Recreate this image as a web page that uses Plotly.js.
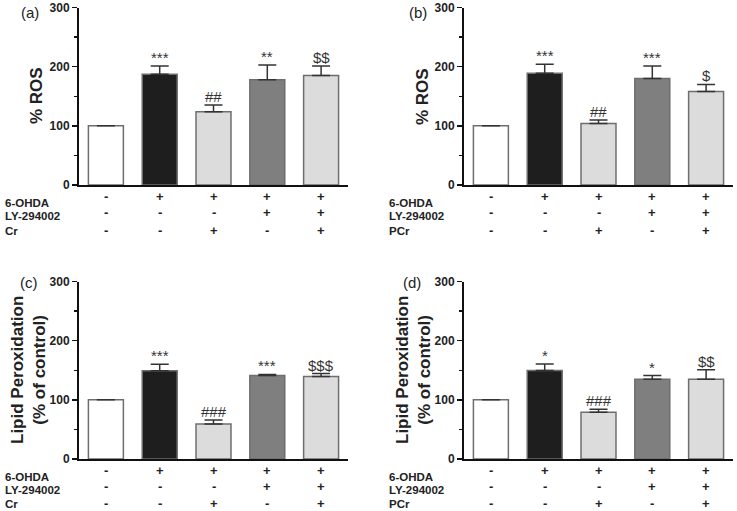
<!DOCTYPE html>
<html>
<head>
<meta charset="utf-8">
<script src="https://cdn.plot.ly/plotly-3.0.1.min.js"></script>
<style>html,body{margin:0;padding:0;background:#fff;}#chart{width:737px;height:511px;}</style>
</head>
<body>
<div id="chart"></div>
<script>
// ---- data ----
const groups = ['Control', '6-OHDA', '6-OHDA+X', '6-OHDA+LY', '6-OHDA+LY+X'];
const barColors = ['#ffffff', '#1e1e1e', '#dcdcdc', '#7f7f7f', '#dcdcdc'];

const rosCr      = [100, 187, 124, 178, 185];
const rosCrErr   = [0, 14, 11, 25, 16];
const rosPCr     = [100, 189, 104, 180, 158];
const rosPCrErr  = [0, 15, 6, 21, 12];
const lpoCr      = [100, 149, 59, 141, 139.5];
const lpoCrErr   = [0, 11, 7, 2, 5];
const lpoPCr     = [100, 149.5, 79, 135, 135];
const lpoPCrErr  = [0, 11, 5, 6, 16];

const marksA = ['', '***', '##', '**', '$$'];
const marksB = ['', '***', '##', '***', '$'];
const marksC = ['', '***', '###', '***', '$$$'];
const marksD = ['', '*', '###', '*', '$$'];

const rowOHDA = ['-', '+', '+', '+', '+'];
const rowLY   = ['-', '-', '-', '+', '+'];
const rowCr   = ['-', '-', '+', '-', '+'];
const rowLabelsCr  = ['6-OHDA', 'LY-294002', 'Cr'];
const rowLabelsPCr = ['6-OHDA', 'LY-294002', 'PCr'];

const yTicks = [0, 100, 200, 300];
const yTickText = ['0', '100', '200', '300'];

// ---- layout helpers ----
const W = 737, H = 511;
const px = v => v / W;
const py = v => 1 - v / H;

const panels = [
  {vals: rosCr, err: rosCrErr, marks: marksA, label: '(a)', ytitle: '% ROS', rows: rowLabelsCr,
   x0: 79, x1: 348, yTop: 7.5, yBot: 185, lab: [30, 12], title: [36, 96], tableY: [197, 213, 230.5], rowY: [202.5, 216.5, 230.5], rowX: 3},
  {vals: rosPCr, err: rosPCrErr, marks: marksB, label: '(b)', ytitle: '% ROS', rows: rowLabelsPCr,
   x0: 464, x1: 733, yTop: 7.5, yBot: 185, lab: [418, 12], title: [422, 96], tableY: [197, 213, 230.5], rowY: [202.5, 216.5, 230.5], rowX: 387},
  {vals: lpoCr, err: lpoCrErr, marks: marksC, label: '(c)', ytitle: 'Lipid Peroxidation<br>(% of control)', rows: rowLabelsCr,
   x0: 79, x1: 348, yTop: 281.5, yBot: 459, lab: [29, 282], title: [28, 370], tableY: [470, 486.5, 503], rowY: [476.5, 490, 504], rowX: 3},
  {vals: lpoPCr, err: lpoPCrErr, marks: marksD, label: '(d)', ytitle: 'Lipid Peroxidation<br>(% of control)', rows: rowLabelsPCr,
   x0: 464, x1: 733, yTop: 281.5, yBot: 459, lab: [412, 282], title: [413, 370], tableY: [470, 486.5, 503], rowY: [476.5, 490, 504], rowX: 387}
];

const data = [];
const layout = {
  width: W, height: H,
  margin: {l: 0, r: 0, t: 0, b: 0},
  paper_bgcolor: '#fff', plot_bgcolor: '#fff',
  showlegend: false, bargap: 0.35,
  font: {family: 'Liberation Sans, Arial, sans-serif', color: '#222'},
  annotations: []
};

panels.forEach((p, i) => {
  const n = i + 1;
  const xa = 'x' + (n === 1 ? '' : n), ya = 'y' + (n === 1 ? '' : n);
  const xk = 'xaxis' + (n === 1 ? '' : n), yk = 'yaxis' + (n === 1 ? '' : n);
  const idx = groups.map((g, k) => k);
  data.push({
    type: 'bar', x: idx, y: p.vals, xaxis: xa, yaxis: ya,
    marker: {color: barColors, line: {color: '#6e6e6e', width: 1.5}},
    error_y: {type: 'data', symmetric: false, array: p.err, arrayminus: p.err.map(() => 0),
              color: '#333', thickness: 1.5, width: 9},
    hoverinfo: 'skip'
  });
  layout[xk] = {
    domain: [px(p.x0), px(p.x1)], anchor: ya, range: [-0.5, 4.5],
    showticklabels: false, ticks: '', showgrid: false, zeroline: false,
    showline: true, linecolor: '#111', linewidth: 2, fixedrange: true
  };
  layout[yk] = {
    domain: [py(p.yBot), py(p.yTop)], anchor: xa, range: [0, 300],
    tickvals: yTicks, ticktext: yTickText, ticks: 'outside', ticklen: 5, tickwidth: 1.5, tickcolor: '#111',
    minor: {dtick: 50, tick0: 0, ticks: 'outside', ticklen: 3, tickwidth: 1.5, tickcolor: '#111'},
    tickfont: {family: 'Liberation Sans, Arial, sans-serif', size: 12, color: '#222', weight: 'bold'},
    showgrid: false, zeroline: false, showline: true, linecolor: '#111', linewidth: 2, fixedrange: true
  };
  // significance marks
  p.marks.forEach((m, k) => {
    if (!m) return;
    layout.annotations.push({
      xref: xa, yref: ya, x: k, y: p.vals[k] + p.err[k], text: m, showarrow: false,
      yanchor: 'bottom', yshift: -2,
      font: {family: 'Liberation Sans, Arial, sans-serif', size: 15, color: '#333'}
    });
  });
  // panel label
  layout.annotations.push({xref: 'paper', yref: 'paper', x: px(p.lab[0]), y: py(p.lab[1]), text: p.label,
    showarrow: false, xanchor: 'center', yanchor: 'middle',
    font: {family: 'Liberation Sans, Arial, sans-serif', size: 15, color: '#222'}});
  // y title
  layout.annotations.push({xref: 'paper', yref: 'paper', x: px(p.title[0]), y: py(p.title[1]), text: p.ytitle,
    showarrow: false, textangle: -90, xanchor: 'center', yanchor: 'middle',
    font: {family: 'Liberation Sans, Arial, sans-serif', size: 17, color: '#222', weight: 'bold'}});
  // table rows
  const rows = [rowOHDA, rowLY, rowCr];
  rows.forEach((r, ri) => {
    layout.annotations.push({xref: 'paper', yref: 'paper', x: px(p.rowX), y: py(p.rowY[ri]), text: p.rows[ri],
      showarrow: false, xanchor: 'left', yanchor: 'middle',
      font: {family: 'Liberation Sans, Arial, sans-serif', size: 11.5, color: '#222', weight: 'bold'}});
    r.forEach((s, k) => {
      layout.annotations.push({xref: xa, yref: 'paper', x: k, y: py(p.tableY[ri]), text: s,
        showarrow: false, xanchor: 'center', yanchor: 'middle',
        font: {family: 'Liberation Sans, Arial, sans-serif', size: 13, color: '#222', weight: 'bold'}});
    });
  });
});

Plotly.newPlot('chart', data, layout, {staticPlot: true, displayModeBar: false});
</script>
</body>
</html>
